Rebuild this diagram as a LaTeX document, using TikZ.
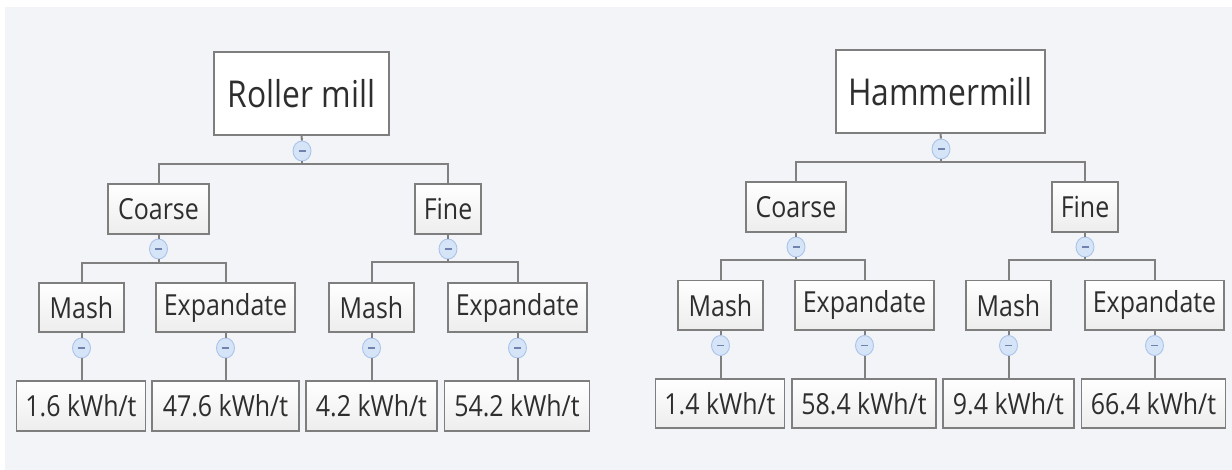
\documentclass[tikz,border=0pt]{standalone}
\usepackage{fontspec}
\setmainfont[FakeStretch=0.86]{Open Sans}
\usetikzlibrary{shapes.geometric}
\definecolor{bg}{HTML}{F3F4F8}
\definecolor{boxgray}{HTML}{7E7E7E}
\definecolor{boxbot}{HTML}{EDEDED}
\definecolor{txt}{HTML}{2E2E2E}
\definecolor{linegray}{HTML}{808080}
\definecolor{togfill}{HTML}{D6E4F7}
\definecolor{togedge}{HTML}{A9C3E9}
\definecolor{togminus}{HTML}{7083AE}
\tikzset{
 root/.style={draw=boxgray, line width=2.2pt, fill=white, minimum height=83, inner sep=0, font=\fontsize{37}{41}\selectfont, text=txt},
 box/.style={draw=boxgray, line width=1.8pt, top color=white, bottom color=boxbot, minimum height=49.5, inner sep=0, font=\fontsize{29}{33}\selectfont, text=txt},
 tog/.style={ellipse, draw=togedge, fill=togfill, line width=0.9pt, minimum width=18, minimum height=20, inner sep=0,
   path picture={\draw[togminus, line width=1.3pt] ([xshift=-3.5pt]path picture bounding box.center) -- ([xshift=3.5pt]path picture bounding box.center);}},
 conn/.style={draw=linegray, line width=2pt},
}
\begin{document}
\begin{tikzpicture}[x=1pt,y=-1pt]
\useasboundingbox (0,0) rectangle (1232,470);
\fill[white] (0,0) rectangle (1232,470);
\fill[bg] (5,7) rectangle (1232,470);

% ---------- Left tree ----------
\node[root, minimum width=175] (R) at (301.5,93.5) {Roller mill};
\node[tog] (tR) at (302,151) {};
\coordinate (jR) at (302,164);
\node[box, minimum width=101] (C1) at (158.5,209) {Coarse};
\node[box, minimum width=66] (F1) at (448,209) {Fine};
\node[tog] (tC1) at (158.5,249) {};
\node[tog] (tF1) at (448,249) {};
\coordinate (jC1) at (158.5,263);
\coordinate (jF1) at (448,262.5);
\node[box, minimum width=85] (M1) at (81.5,307.5) {Mash};
\node[box, minimum width=139] (E1) at (225.5,307.5) {Expandate};
\node[box, minimum width=85] (M2) at (371.5,307.5) {Mash};
\node[box, minimum width=139] (E2) at (517.5,307.5) {Expandate};
\node[tog] (tM1) at (81.5,348) {};
\node[tog] (tE1) at (225.5,348) {};
\node[tog] (tM2) at (371.5,348) {};
\node[tog] (tE2) at (517.5,348) {};
\node[box, minimum width=129] (V1) at (81,406) {1.6 kWh/t};
\node[box, minimum width=147] (V2) at (225.5,406) {47.6 kWh/t};
\node[box, minimum width=131] (V3) at (371.5,406) {4.2 kWh/t};
\node[box, minimum width=145] (V4) at (517,406) {54.2 kWh/t};

\draw[conn] (R.south) -- (tR.north);
\draw[conn] (tR.south) -- (jR);
\draw[conn] (jR) -| (C1.north);
\draw[conn] (jR) -| (F1.north);
\draw[conn] (C1.south) -- (tC1.north);
\draw[conn] (F1.south) -- (tF1.north);
\draw[conn] (tC1.south) -- (jC1);
\draw[conn] (tF1.south) -- (jF1);
\draw[conn] (jC1) -| (M1.north);
\draw[conn] (jC1) -| (E1.north);
\draw[conn] (jF1) -| (M2.north);
\draw[conn] (jF1) -| (E2.north);
\draw[conn] (M1.south) -- (tM1.north);
\draw[conn] (E1.south) -- (tE1.north);
\draw[conn] (M2.south) -- (tM2.north);
\draw[conn] (E2.south) -- (tE2.north);
\draw[conn] (tM1.south) -- (tM1.south |- V1.north);
\draw[conn] (tE1.south) -- (tE1.south |- V2.north);
\draw[conn] (tM2.south) -- (tM2.south |- V3.north);
\draw[conn] (tE2.south) -- (tE2.south |- V4.north);

% ---------- Right tree ----------
\node[root, minimum width=209] (H) at (940.5,91.5) {Hammermill};
\node[tog] (tH) at (941,149) {};
\coordinate (jH) at (941,162.5);
\node[box, minimum width=100] (C2) at (796,207) {Coarse};
\node[box, minimum width=66] (F2) at (1085,207) {Fine};
\node[tog] (tC2) at (796,247) {};
\node[tog] (tF2) at (1085,247) {};
\coordinate (jC2) at (796,260.5);
\coordinate (jF2) at (1085,260.5);
\node[box, minimum width=85] (M3) at (720.5,305.3) {Mash};
\node[box, minimum width=139] (E3) at (864.5,305.3) {Expandate};
\node[box, minimum width=85] (M4) at (1008.5,305.3) {Mash};
\node[box, minimum width=139] (E4) at (1154.5,305.3) {Expandate};
\node[tog] (tM3) at (720.5,345.5) {};
\node[tog] (tE3) at (864.5,345.5) {};
\node[tog] (tM4) at (1008.5,345.5) {};
\node[tog] (tE4) at (1154.5,345.5) {};
\node[box, minimum width=129] (V5) at (720,403.5) {1.4 kWh/t};
\node[box, minimum width=144] (V6) at (864,403.5) {58.4 kWh/t};
\node[box, minimum width=131] (V7) at (1008.5,403.5) {9.4 kWh/t};
\node[box, minimum width=144] (V8) at (1153.5,403.5) {66.4 kWh/t};

\draw[conn] (H.south) -- (tH.north);
\draw[conn] (tH.south) -- (jH);
\draw[conn] (jH) -| (C2.north);
\draw[conn] (jH) -| (F2.north);
\draw[conn] (C2.south) -- (tC2.north);
\draw[conn] (F2.south) -- (tF2.north);
\draw[conn] (tC2.south) -- (jC2);
\draw[conn] (tF2.south) -- (jF2);
\draw[conn] (jC2) -| (M3.north);
\draw[conn] (jC2) -| (E3.north);
\draw[conn] (jF2) -| (M4.north);
\draw[conn] (jF2) -| (E4.north);
\draw[conn] (M3.south) -- (tM3.north);
\draw[conn] (E3.south) -- (tE3.north);
\draw[conn] (M4.south) -- (tM4.north);
\draw[conn] (E4.south) -- (tE4.north);
\draw[conn] (tM3.south) -- (tM3.south |- V5.north);
\draw[conn] (tE3.south) -- (tE3.south |- V6.north);
\draw[conn] (tM4.south) -- (tM4.south |- V7.north);
\draw[conn] (tE4.south) -- (tE4.south |- V8.north);
\end{tikzpicture}
\end{document}
